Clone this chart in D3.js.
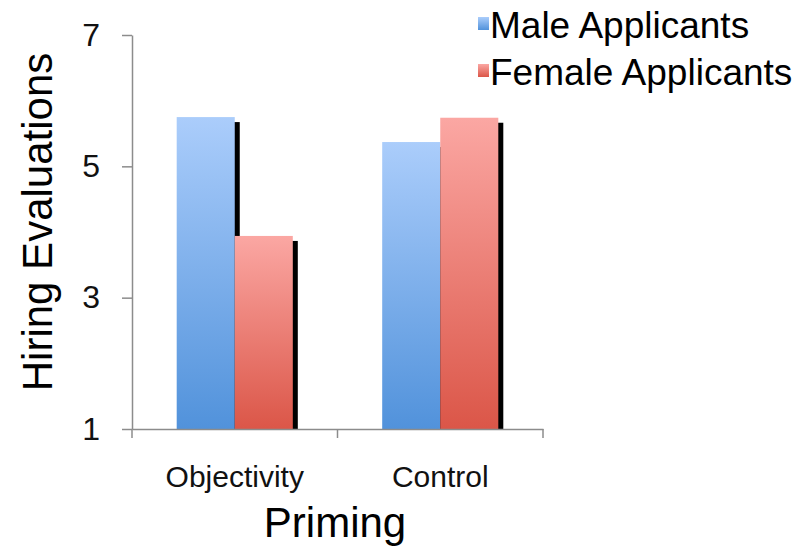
<!DOCTYPE html>
<html><head><meta charset="utf-8">
<script src="https://cdn.jsdelivr.net/npm/d3@7"></script>
<style>body{margin:0;background:#fff}svg{display:block;font-family:"Liberation Sans",Arial,sans-serif}</style>
</head><body><svg id="c" width="798" height="548"></svg>
<script>
const categories = ["Objectivity", "Control"];
const seriesNames = ["Male Applicants", "Female Applicants"];
const maleValues = [5.75, 5.37];
const femaleValues = [3.94, 5.74];
const yTicks = [1, 3, 5, 7];

(function () {
const svg = d3.select("#c");
const mLeft = 132, mRight = 543, mTop = 35, mBottom = 429;
const y = d3.scaleLinear().domain([1, 7]).range([mBottom, mTop]);
const x0 = d3.scaleBand().domain(categories).range([mLeft, mRight]).padding(0);
const x1 = d3.scaleBand().domain(seriesNames).range([0, x0.bandwidth()]).paddingInner(0).paddingOuter(0.77);

const defs = svg.append("defs");
const grads = [["gBlue", "#abcdfb", "#5192db"], ["gRed", "#fba7a3", "#db5648"]];
grads.forEach(([id, c1, c2]) => {
  const g = defs.append("linearGradient").attr("id", id).attr("x1", 0).attr("y1", 0).attr("x2", 0).attr("y2", 1);
  g.append("stop").attr("offset", "0%").attr("stop-color", c1);
  g.append("stop").attr("offset", "100%").attr("stop-color", c2);
});
const fills = {"Male Applicants": "url(#gBlue)", "Female Applicants": "url(#gRed)"};

const data = [];
categories.forEach((c, i) => {
  data.push({cat: c, s: seriesNames[0], v: maleValues[i]});
  data.push({cat: c, s: seriesNames[1], v: femaleValues[i]});
});

// shadows
svg.append("g").selectAll("rect").data(data).join("rect")
  .attr("x", d => x0(d.cat) + x1(d.s) + 5)
  .attr("y", d => y(d.v) + 5)
  .attr("width", x1.bandwidth())
  .attr("height", d => mBottom - y(d.v) - 5)
  .attr("fill", "#000");
// bars
svg.append("g").selectAll("rect").data(data).join("rect")
  .attr("x", d => x0(d.cat) + x1(d.s))
  .attr("y", d => y(d.v))
  .attr("width", x1.bandwidth())
  .attr("height", d => mBottom - y(d.v))
  .attr("fill", d => fills[d.s]);

// y axis
const ya = svg.append("g").attr("transform", `translate(${mLeft},0)`)
  .call(d3.axisLeft(y).tickValues(yTicks).tickFormat(d3.format("d")).tickSize(10).tickPadding(22).tickSizeOuter(0));
ya.select(".domain").attr("stroke", "#8c8c8c").attr("stroke-width", 1.5);
ya.selectAll(".tick line").attr("stroke", "#8c8c8c").attr("stroke-width", 1.5);
ya.selectAll(".tick text").attr("font-size", 32).attr("fill", "#111").attr("font-family", "Liberation Sans, Arial, sans-serif");

// x axis
const xa = svg.append("g").attr("transform", `translate(0,${mBottom})`)
  .call(d3.axisBottom(x0).tickSize(0).tickPadding(37));
xa.select(".domain").attr("stroke", "#8c8c8c").attr("stroke-width", 1.5);
xa.selectAll(".tick text").attr("font-size", 30).attr("fill", "#111").attr("font-family", "Liberation Sans, Arial, sans-serif");
const xb = [mLeft, ...categories.map(c => x0(c) + x0.bandwidth())];
svg.append("g").selectAll("line").data(xb).join("line")
  .attr("x1", d => d).attr("x2", d => d).attr("y1", mBottom).attr("y2", mBottom + 9)
  .attr("stroke", "#8c8c8c").attr("stroke-width", 1.5);

// titles
svg.append("text").attr("x", 335).attr("y", 537).attr("text-anchor", "middle")
  .attr("font-size", 42).attr("fill", "#000").text("Priming");
svg.append("text").attr("transform", "translate(52,222) rotate(-90)").attr("text-anchor", "middle")
  .attr("font-size", 42).attr("fill", "#000").text("Hiring Evaluations");

// legend
const lg = svg.append("g");
seriesNames.forEach((s, i) => {
  lg.append("rect").attr("x", 478).attr("y", 17 + i * 47).attr("width", 11).attr("height", 13).attr("fill", fills[s]);
  lg.append("text").attr("x", 490).attr("y", 38 + i * 47).attr("font-size", 37).attr("fill", "#000").text(s);
});
})();
</script></body></html>
